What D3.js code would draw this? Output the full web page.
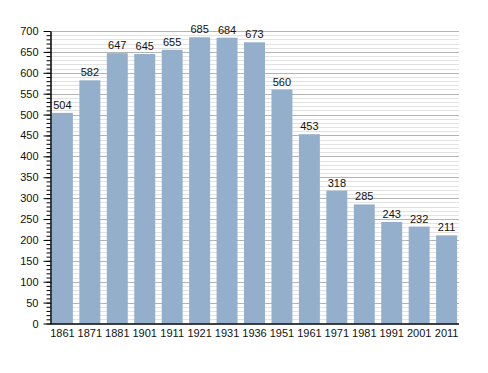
<!DOCTYPE html>
<html>
<head>
<meta charset="utf-8">
<script src="https://cdn.jsdelivr.net/npm/d3@7"></script>
<style>
  body { margin: 0; background: #fff; }
  svg { display: block; font-family: "Liberation Sans", Arial, sans-serif; }
</style>
</head>
<body>
<script>
// population by census year
const years = ['1861', '1871', '1881', '1901', '1911', '1921', '1931', '1936', '1951', '1961', '1971', '1981', '1991', '2001', '2011'];
const population = [504, 582, 647, 645, 655, 685, 684, 673, 560, 453, 318, 285, 243, 232, 211];
const yMajorTicks = [0, 50, 100, 150, 200, 250, 300, 350, 400, 450, 500, 550, 600, 650, 700];
const yMinorTicks = d3.range(0, 701, 10);

const width = 488, height = 373;
const margin = { top: 31, right: 29, bottom: 49.5, left: 50 };

const svg = d3.select('body').append('svg')
  .attr('width', width)
  .attr('height', height);

const x = d3.scaleBand()
  .domain(years)
  .range([margin.left, width - margin.right])
  .paddingInner(0.236)
  .paddingOuter(0.07);

const y = d3.scaleLinear()
  .domain([0, 700])
  .range([height - margin.bottom, margin.top]);

// grid lines
svg.append('g')
  .selectAll('line')
  .data(yMinorTicks.filter(d => d % 50 !== 0))
  .join('line')
  .attr('x1', margin.left).attr('x2', width - margin.right)
  .attr('y1', d => Math.round(y(d)) + 0.5).attr('y2', d => Math.round(y(d)) + 0.5)
  .attr('stroke', '#e2e2e2');

svg.append('g')
  .selectAll('line')
  .data(yMajorTicks.filter(d => d > 0))
  .join('line')
  .attr('x1', margin.left).attr('x2', width - margin.right)
  .attr('y1', d => Math.round(y(d)) + 0.5).attr('y2', d => Math.round(y(d)) + 0.5)
  .attr('stroke', '#b4b4b4');

// bars
svg.append('g')
  .selectAll('rect')
  .data(population)
  .join('rect')
  .attr('x', (d, i) => x(years[i]))
  .attr('y', d => y(d))
  .attr('width', x.bandwidth())
  .attr('height', d => y(0) - y(d))
  .attr('fill', '#94afcb');

// value labels
svg.append('g')
  .selectAll('text')
  .data(population)
  .join('text')
  .attr('x', (d, i) => x(years[i]) + x.bandwidth() / 2)
  .attr('y', d => y(d) - 4)
  .attr('text-anchor', 'middle')
  .attr('font-size', 11)
  .attr('fill', '#111')
  .text(d => d);

// y axis: minor ticks then major ticks with labels
svg.append('g')
  .attr('transform', `translate(${margin.left + 0.5},0)`)
  .call(d3.axisLeft(y).tickValues(yMinorTicks).tickSize(4).tickFormat(''))
  .call(g => g.select('.domain').remove())
  .call(g => g.selectAll('line').attr('stroke', '#000'));

svg.append('g')
  .attr('transform', `translate(${margin.left + 0.5},0)`)
  .call(d3.axisLeft(y).tickValues(yMajorTicks).tickSize(7).tickSizeOuter(0).tickPadding(5))
  .call(g => g.select('.domain').attr('stroke', '#000').attr('stroke-width', 1.5))
  .call(g => g.selectAll('line').attr('stroke', '#000'))
  .call(g => g.selectAll('text').attr('font-size', 11).attr('fill', '#111').attr('font-family', null));

// x axis
svg.append('g')
  .attr('transform', `translate(0,${y(0)})`)
  .call(d3.axisBottom(x).tickSize(0).tickSizeOuter(0).tickPadding(6))
  .call(g => g.select('.domain').attr('stroke', '#000').attr('stroke-width', 1.5)
    .attr('d', `M${margin.left},0.5H${width - margin.right}`))
  .call(g => g.selectAll('text').attr('font-size', 11).attr('fill', '#111').attr('font-family', null));
</script>
</body>
</html>
